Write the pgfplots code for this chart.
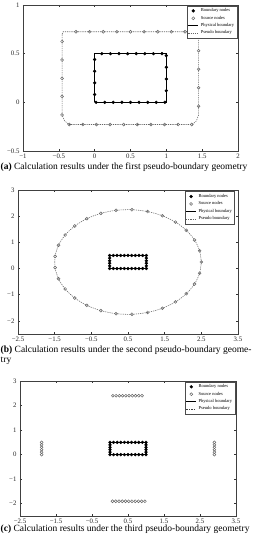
\documentclass[border=0pt]{standalone}
\usepackage{pgfplots}
\pgfplotsset{compat=1.18}
\usepackage{fontspec}
\setmainfont{Liberation Serif}
\pgfplotsset{
  mystyle/.style={
    scale only axis,
    axis line style={line width=0.8pt, black!75},
    tick align=inside,
    major tick length=2pt,
    tick style={black!80, line width=0.5pt},
    ticklabel style={font=\fontsize{6.8}{7.5}\selectfont, text=black!85},
    xticklabel style={yshift=0.8pt},
    /pgf/number format/assume math mode=true,
    legend cell align=left,
    legend style={at={(0.995,0.995)}, anchor=north east,
      font=\fontsize{4.5}{4.8}\selectfont, draw=black!70, line width=0.4pt,
      inner sep=0.6pt, row sep=-1.2pt, fill=white},
    legend image code/.code={\draw[mark repeat=2,mark phase=2,#1] plot coordinates {(0pt,0pt)(5pt,0pt)(10pt,0pt)};},
  },
  bnode/.style={only marks, mark=*, mark size=1.45pt, black, mark options={fill=black}},
  snode/.style={only marks, mark=o, mark size=1.45pt, black!60, mark options={line width=0.5pt}},
  phys/.style={black, line width=0.9pt, mark=none},
  pseudo/.style={black!60, line width=0.55pt, dash pattern=on 1.2pt off 1pt, mark=none},
}
\newcommand\capfont{\fontsize{9.5}{10.5}\selectfont}
\begin{document}
\begin{tikzpicture}[x=1pt,y=1pt]
\useasboundingbox (0,0) rectangle (257,550);

% ---------------- (a)
\begin{axis}[mystyle, at={(23pt,399pt)}, anchor=south west, width=215pt, height=146pt,
  xmin=-1, xmax=2, ymin=-0.5, ymax=1,
  xtick={-1,-0.5,0,0.5,1,1.5,2}, xticklabels={−1,−0.5,0,0.5,1,1.5,2},
  ytick={-0.5,0,0.5,1}, yticklabels={−0.5,0,0.5,1}]
\addplot[bnode] coordinates {
(0.02,0)(0.14,0)(0.26,0)(0.38,0)(0.50,0)(0.62,0)(0.74,0)(0.86,0)(0.98,0)
(1,0.12)(1,0.24)(1,0.36)(1,0.48)
(0.94,0.5)(0.82,0.5)(0.70,0.5)(0.58,0.5)(0.46,0.5)(0.34,0.5)(0.22,0.5)(0.10,0.5)
(0,0.44)(0,0.32)(0,0.20)(0,0.08)};
\addlegendentry{Boundary nodes}
\addplot[snode] coordinates {
(-0.26,0.725)(-0.07,0.725)(0.12,0.725)(0.31,0.725)(0.50,0.725)(0.69,0.725)(0.88,0.725)(1.07,0.725)(1.26,0.725)(1.45,0.725)
(1.45,0.53)(1.45,0.34)(1.45,0.15)(1.45,-0.04)
(1.355,-0.228)(1.165,-0.228)(0.975,-0.228)(0.785,-0.228)(0.595,-0.228)(0.405,-0.228)(0.215,-0.228)(0.025,-0.228)(-0.165,-0.228)(-0.355,-0.228)
(-0.455,-0.13)(-0.455,0.06)(-0.455,0.245)(-0.455,0.435)(-0.455,0.625)};
\addlegendentry{Source nodes}
\addplot[phys] coordinates {(0,0)(1,0)(1,0.5)(0,0.5)(0,0)};
\addlegendentry{Physical boundary}
\addplot[pseudo] coordinates {(-0.455,0.70)(-0.44,0.725)(1.43,0.725)(1.45,0.70)(1.45,-0.13)(1.42,-0.19)(1.36,-0.228)(-0.36,-0.228)(-0.42,-0.19)(-0.455,-0.13)(-0.455,0.70)};
\addlegendentry{Pseudo boundary}
\end{axis}
\node[anchor=west, inner sep=0pt, font=\capfont] at (0.5,383) {\textbf{(a)} Calculation results under the first pseudo-boundary geometry};

% ---------------- (b)
\begin{axis}[mystyle, at={(18pt,216pt)}, anchor=south west, width=220pt, height=144pt,
  xmin=-2.5, xmax=3.5, ymin=-2.5, ymax=3,
  xtick={-2.5,-1.5,-0.5,0.5,1.5,2.5,3.5}, xticklabels={−2.5,−1.5,−0.5,0.5,1.5,2.5,3.5},
  ytick={-2,-1,0,1,2,3}, yticklabels={−2,−1,0,1,2,3},
  legend style={at={(0.985,0.99)}}]
\addplot[bnode] coordinates {
(0,0)(0.1,0)(0.2,0)(0.3,0)(0.4,0)(0.5,0)(0.6,0)(0.7,0)(0.8,0)(0.9,0)(1,0)
(1,0.1)(1,0.2)(1,0.3)(1,0.4)
(1,0.5)(0.9,0.5)(0.8,0.5)(0.7,0.5)(0.6,0.5)(0.5,0.5)(0.4,0.5)(0.3,0.5)(0.2,0.5)(0.1,0.5)(0,0.5)
(0,0.4)(0,0.3)(0,0.2)(0,0.1)};
\addlegendentry{Boundary nodes}
\addplot[snode] coordinates {
(2.500,0.250)(2.453,0.680)(2.315,1.090)(2.092,1.460)(1.795,1.774)(1.437,2.017)(1.035,2.177)(0.608,2.247)
(0.176,2.224)(-0.240,2.108)(-0.622,1.905)(-0.952,1.625)(-1.214,1.281)(-1.395,0.889)(-1.488,0.466)
(-1.488,0.034)(-1.395,-0.389)(-1.214,-0.781)(-0.952,-1.125)(-0.622,-1.405)(-0.240,-1.608)(0.176,-1.724)
(0.608,-1.747)(1.035,-1.677)(1.437,-1.517)(1.795,-1.274)(2.092,-0.960)(2.315,-0.590)(2.453,-0.180)};
\addlegendentry{Source nodes}
\addplot[phys] coordinates {(0,0)(1,0)(1,0.5)(0,0.5)(0,0)};
\addlegendentry{Physical boundary}
\addplot[pseudo, smooth] coordinates {
(2.500,0.250)(2.453,0.680)(2.315,1.090)(2.092,1.460)(1.795,1.774)(1.437,2.017)(1.035,2.177)(0.608,2.247)
(0.176,2.224)(-0.240,2.108)(-0.622,1.905)(-0.952,1.625)(-1.214,1.281)(-1.395,0.889)(-1.488,0.466)
(-1.488,0.034)(-1.395,-0.389)(-1.214,-0.781)(-0.952,-1.125)(-0.622,-1.405)(-0.240,-1.608)(0.176,-1.724)
(0.608,-1.747)(1.035,-1.677)(1.437,-1.517)(1.795,-1.274)(2.092,-0.960)(2.315,-0.590)(2.453,-0.180)(2.500,0.250)};
\addlegendentry{Pseudo boundary}
\end{axis}
\node[anchor=west, inner sep=0pt, font=\capfont] at (0.5,200) {\textbf{(b)} Calculation results under the second pseudo-boundary geome-};
\node[anchor=west, inner sep=0pt, font=\capfont] at (0.5,189.5) {try};

% ---------------- (c)
\begin{axis}[mystyle, at={(20pt,34pt)}, anchor=south west, width=216pt, height=135pt,
  xmin=-2.5, xmax=3.5, ymin=-2.5, ymax=3,
  xtick={-2.5,-1.5,-0.5,0.5,1.5,2.5,3.5}, xticklabels={−2.5,−1.5,−0.5,0.5,1.5,2.5,3.5},
  ytick={-2,-1,0,1,2,3}, yticklabels={−2,−1,0,1,2,3}]
\addplot[bnode] coordinates {
(0,0)(0.1,0)(0.2,0)(0.3,0)(0.4,0)(0.5,0)(0.6,0)(0.7,0)(0.8,0)(0.9,0)(1,0)
(1,0.1)(1,0.2)(1,0.3)(1,0.4)
(1,0.5)(0.9,0.5)(0.8,0.5)(0.7,0.5)(0.6,0.5)(0.5,0.5)(0.4,0.5)(0.3,0.5)(0.2,0.5)(0.1,0.5)(0,0.5)
(0,0.4)(0,0.3)(0,0.2)(0,0.1)};
\addlegendentry{Boundary nodes}
\addplot[snode] coordinates {
(0.08,2.4)(0.17,2.4)(0.26,2.4)(0.35,2.4)(0.44,2.4)(0.53,2.4)(0.62,2.4)(0.71,2.4)(0.80,2.4)(0.89,2.4)
(0.07,-1.9)(0.16,-1.9)(0.25,-1.9)(0.34,-1.9)(0.43,-1.9)(0.52,-1.9)(0.61,-1.9)(0.70,-1.9)(0.79,-1.9)(0.88,-1.9)(0.97,-1.9)
(-1.9,0)(-1.9,0.1)(-1.9,0.2)(-1.9,0.3)(-1.9,0.4)(-1.9,0.5)
(2.9,0)(2.9,0.1)(2.9,0.2)(2.9,0.3)(2.9,0.4)(2.9,0.5)};
\addlegendentry{Source nodes}
\addplot[phys] coordinates {(0,0)(1,0)(1,0.5)(0,0.5)(0,0)};
\addlegendentry{Physical boundary}
\addlegendimage{black!75, line width=0.5pt, dash pattern=on 1.5pt off 1pt}
\addlegendentry{Pseudo boundary}
\end{axis}
\node[anchor=west, inner sep=0pt, font=\capfont] at (0.5,20.5) {\textbf{(c)} Calculation results under the third pseudo-boundary geometry};
\end{tikzpicture}
\end{document}
